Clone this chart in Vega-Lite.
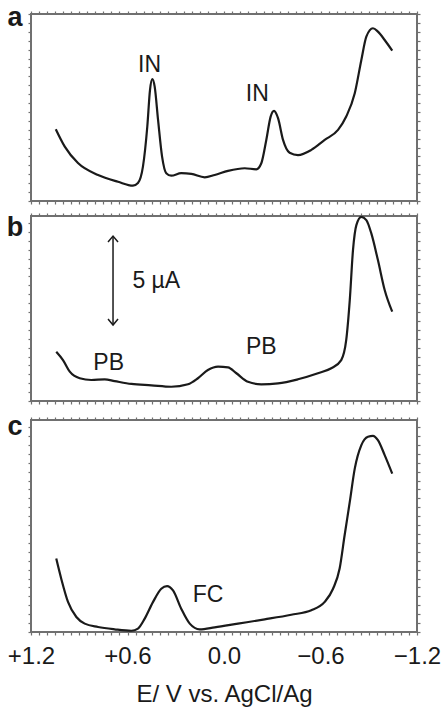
{
  "$schema": "https://vega.github.io/schema/vega-lite/v6.json",
  "padding": {"top": 2, "left": 5, "right": 0, "bottom": 0},
  "spacing": 5,
  "config": {
    "font": "Liberation Sans",
    "view": {"stroke": "#707070", "strokeWidth": 2},
    "axis": {"grid": false, "domain": false, "labels": false, "ticks": true, "tickSize": 3, "tickColor": "#707070", "tickWidth": 1.2},
    "text": {"fontSize": 23, "color": "#1a1a1a", "font": "Liberation Sans"},
    "line": {"color": "#1a1a1a", "strokeWidth": 2.2, "interpolate": "monotone"}
  },
  "datasets": {
    "a": [
      {"E":1.046,"I":4.03},{"E":0.990,"I":3.05},{"E":0.908,"I":2.13},{"E":0.783,"I":1.46},{"E":0.659,"I":1.08},
      {"E":0.566,"I":0.86},{"E":0.535,"I":1.01},{"E":0.504,"I":1.93},{"E":0.477,"I":4.17},{"E":0.460,"I":6.24},
      {"E":0.446,"I":6.84},{"E":0.431,"I":6.42},{"E":0.410,"I":4.55},{"E":0.385,"I":2.49},{"E":0.359,"I":1.56},
      {"E":0.328,"I":1.42},{"E":0.266,"I":1.56},{"E":0.203,"I":1.52},{"E":0.120,"I":1.33},{"E":0.058,"I":1.46},
      {"E":-0.025,"I":1.69},{"E":-0.129,"I":1.84},{"E":-0.201,"I":1.78},{"E":-0.232,"I":2.12},{"E":-0.263,"I":3.43},
      {"E":-0.290,"I":4.74},{"E":-0.311,"I":5.06},{"E":-0.336,"I":4.65},{"E":-0.367,"I":3.43},{"E":-0.408,"I":2.71},
      {"E":-0.460,"I":2.58},{"E":-0.543,"I":2.87},{"E":-0.626,"I":3.43},{"E":-0.709,"I":3.99},{"E":-0.760,"I":4.74},
      {"E":-0.813,"I":6.05},{"E":-0.854,"I":7.92},{"E":-0.885,"I":9.23},{"E":-0.926,"I":9.70},{"E":-0.957,"I":9.51},
      {"E":-0.999,"I":9.04},{"E":-1.046,"I":8.44}
    ],
    "b": [
      {"E":1.043,"I":2.77},{"E":1.001,"I":2.30},{"E":0.959,"I":1.65},{"E":0.897,"I":1.28},{"E":0.825,"I":1.18},
      {"E":0.742,"I":1.22},{"E":0.680,"I":1.12},{"E":0.576,"I":0.96},{"E":0.452,"I":0.88},{"E":0.328,"I":0.80},
      {"E":0.224,"I":0.94},{"E":0.162,"I":1.28},{"E":0.100,"I":1.74},{"E":0.037,"I":1.93},{"E":-0.025,"I":1.89},
      {"E":-0.077,"I":1.56},{"E":-0.149,"I":1.08},{"E":-0.232,"I":0.94},{"E":-0.336,"I":0.99},{"E":-0.460,"I":1.22},
      {"E":-0.584,"I":1.56},{"E":-0.667,"I":1.84},{"E":-0.729,"I":2.30},{"E":-0.760,"I":3.43},{"E":-0.782,"I":5.67},
      {"E":-0.802,"I":8.48},{"E":-0.823,"I":9.89},{"E":-0.854,"I":10.35},{"E":-0.885,"I":10.17},{"E":-0.916,"I":9.42},
      {"E":-0.957,"I":7.92},{"E":-0.999,"I":6.24},{"E":-1.046,"I":5.02}
    ],
    "c": [
      {"E":1.043,"I":4.12},{"E":1.012,"I":2.99},{"E":0.970,"I":1.69},{"E":0.918,"I":0.84},{"E":0.866,"I":0.47},
      {"E":0.783,"I":0.28},{"E":0.680,"I":0.15},{"E":0.576,"I":0.07},{"E":0.535,"I":0.19},{"E":0.493,"I":0.75},
      {"E":0.441,"I":1.69},{"E":0.390,"I":2.43},{"E":0.354,"I":2.58},{"E":0.317,"I":2.34},{"E":0.266,"I":1.31},
      {"E":0.213,"I":0.47},{"E":0.151,"I":0.15},{"E":0.058,"I":0.26},{"E":-0.087,"I":0.47},{"E":-0.253,"I":0.71},
      {"E":-0.418,"I":0.97},{"E":-0.543,"I":1.22},{"E":-0.626,"I":1.69},{"E":-0.678,"I":2.43},{"E":-0.719,"I":3.56},
      {"E":-0.750,"I":5.43},{"E":-0.782,"I":7.30},{"E":-0.813,"I":9.17},{"E":-0.854,"I":10.49},{"E":-0.895,"I":10.96},
      {"E":-0.926,"I":11.01},{"E":-0.957,"I":10.77},{"E":-0.999,"I":9.93},{"E":-1.046,"I":8.89}
    ],
    "a_lab": [{"E":0.463,"I":7.64,"label":"IN"},{"E":-0.207,"I":5.99,"label":"IN"}],
    "b_lab": [{"E":0.717,"I":2.12,"label":"PB"},{"E":-0.232,"I":3.05,"label":"PB"},{"E":0.421,"I":6.74,"label":"5 µA"}],
    "c_lab": [{"E":0.099,"I":2.10,"label":"FC"}],
    "a_tag": [{"E":1.30,"I":9.83,"tag":"a"}],
    "b_tag": [{"E":1.30,"I":9.30,"tag":"b"}],
    "c_tag": [{"E":1.30,"I":11.07,"tag":"c"}],
    "arrow": [{"E":0.69,"top":9.27,"bottom":4.27}]
  },
  "vconcat": [
    {
      "width": 386, "height": 187,
      "layer": [
        {
          "data": {"name": "a"},
          "mark": {"type": "line"},
          "encoding": {
            "x": {"field": "E", "type": "quantitative", "scale": {"domain": [1.2, -1.2], "nice": false, "zero": false}, "axis": {"orient": "bottom", "tickCount": 40, "title": null}},
            "y": {"field": "I", "type": "quantitative", "scale": {"domain": [0, 10.5], "nice": false}, "axis": {"orient": "left", "tickCount": 20, "title": null}}
          }
        },
        {
          "data": {"name": "a_lab"},
          "mark": {"type": "text", "baseline": "middle"},
          "encoding": {
            "x": {"field": "E", "type": "quantitative", "scale": {"domain": [1.2, -1.2], "nice": false, "zero": false}, "axis": {"orient": "top", "tickCount": 40, "title": null}},
            "y": {"field": "I", "type": "quantitative", "scale": {"domain": [0, 10.5], "nice": false}, "axis": {"orient": "right", "tickCount": 20, "title": null}},
            "text": {"field": "label"}
          }
        },
        {
          "data": {"name": "a_tag"},
          "mark": {"type": "text", "fontWeight": "bold", "fontSize": 27, "baseline": "alphabetic"},
          "encoding": {
            "x": {"field": "E", "type": "quantitative", "axis": null},
            "y": {"field": "I", "type": "quantitative", "axis": null},
            "text": {"field": "tag"}
          }
        }
      ]
    },
    {
      "width": 386, "height": 185,
      "layer": [
        {
          "data": {"name": "b"},
          "mark": {"type": "line"},
          "encoding": {
            "x": {"field": "E", "type": "quantitative", "scale": {"domain": [1.2, -1.2], "nice": false, "zero": false}, "axis": {"orient": "bottom", "tickCount": 40, "title": null}},
            "y": {"field": "I", "type": "quantitative", "scale": {"domain": [0, 10.4], "nice": false}, "axis": {"orient": "left", "tickCount": 20, "title": null}}
          }
        },
        {
          "data": {"name": "b_lab"},
          "mark": {"type": "text", "baseline": "middle"},
          "encoding": {
            "x": {"field": "E", "type": "quantitative", "scale": {"domain": [1.2, -1.2], "nice": false, "zero": false}, "axis": {"orient": "top", "tickCount": 40, "title": null}},
            "y": {"field": "I", "type": "quantitative", "scale": {"domain": [0, 10.4], "nice": false}, "axis": {"orient": "right", "tickCount": 20, "title": null}},
            "text": {"field": "label"}
          }
        },
        {
          "data": {"name": "b_tag"},
          "mark": {"type": "text", "fontWeight": "bold", "fontSize": 27, "baseline": "alphabetic"},
          "encoding": {
            "x": {"field": "E", "type": "quantitative", "axis": null},
            "y": {"field": "I", "type": "quantitative", "axis": null},
            "text": {"field": "tag"}
          }
        },
        {
          "data": {"name": "arrow"},
          "mark": {"type": "rule", "color": "#1a1a1a", "strokeWidth": 1.5},
          "encoding": {
            "x": {"field": "E", "type": "quantitative", "axis": null},
            "y": {"field": "top", "type": "quantitative", "axis": null},
            "y2": {"field": "bottom"}
          }
        },
        {
          "data": {"name": "arrow"},
          "mark": {"type": "point", "shape": "M-1,1.2L0,0L1,1.2", "filled": false, "size": 100, "stroke": "#1a1a1a", "strokeWidth": 1.5, "opacity": 1},
          "encoding": {
            "x": {"field": "E", "type": "quantitative", "axis": null},
            "y": {"field": "top", "type": "quantitative", "axis": null}
          }
        },
        {
          "data": {"name": "arrow"},
          "mark": {"type": "point", "shape": "M-1,-1.2L0,0L1,-1.2", "filled": false, "size": 100, "stroke": "#1a1a1a", "strokeWidth": 1.5, "opacity": 1},
          "encoding": {
            "x": {"field": "E", "type": "quantitative", "axis": null},
            "y": {"field": "bottom", "type": "quantitative", "axis": null}
          }
        }
      ]
    },
    {
      "width": 386, "height": 212,
      "layer": [
        {
          "data": {"name": "c"},
          "mark": {"type": "line"},
          "encoding": {
            "x": {"field": "E", "type": "quantitative", "scale": {"domain": [1.2, -1.2], "nice": false, "zero": false},
              "axis": {"orient": "bottom", "tickCount": 40, "labels": true, "labelOverlap": false, "labelFlush": false, "labelBound": false,
                "labelFontSize": 24, "labelColor": "#1a1a1a", "labelFont": "Liberation Sans", "labelPadding": 9,
                "labelExpr": "abs(round(datum.value*100) % 60) == 0 ? (datum.value > 0.001 ? '+' + format(datum.value, '.1f') : format(datum.value, '.1f')) : ''",
                "title": "E/  V vs. AgCl/Ag", "titleFontSize": 24, "titleFontWeight": "normal", "titleColor": "#1a1a1a", "titleFont": "Liberation Sans", "titlePadding": 14}},
            "y": {"field": "I", "type": "quantitative", "scale": {"domain": [0, 11.9], "nice": false}, "axis": {"orient": "left", "tickCount": 20, "title": null}}
          }
        },
        {
          "data": {"name": "c_lab"},
          "mark": {"type": "text", "baseline": "middle"},
          "encoding": {
            "x": {"field": "E", "type": "quantitative", "scale": {"domain": [1.2, -1.2], "nice": false, "zero": false}, "axis": {"orient": "top", "tickCount": 40, "title": null}},
            "y": {"field": "I", "type": "quantitative", "scale": {"domain": [0, 11.9], "nice": false}, "axis": {"orient": "right", "tickCount": 20, "title": null}},
            "text": {"field": "label"}
          }
        },
        {
          "data": {"name": "c_tag"},
          "mark": {"type": "text", "fontWeight": "bold", "fontSize": 27, "baseline": "alphabetic"},
          "encoding": {
            "x": {"field": "E", "type": "quantitative", "axis": null},
            "y": {"field": "I", "type": "quantitative", "axis": null},
            "text": {"field": "tag"}
          }
        }
      ]
    }
  ]
}
